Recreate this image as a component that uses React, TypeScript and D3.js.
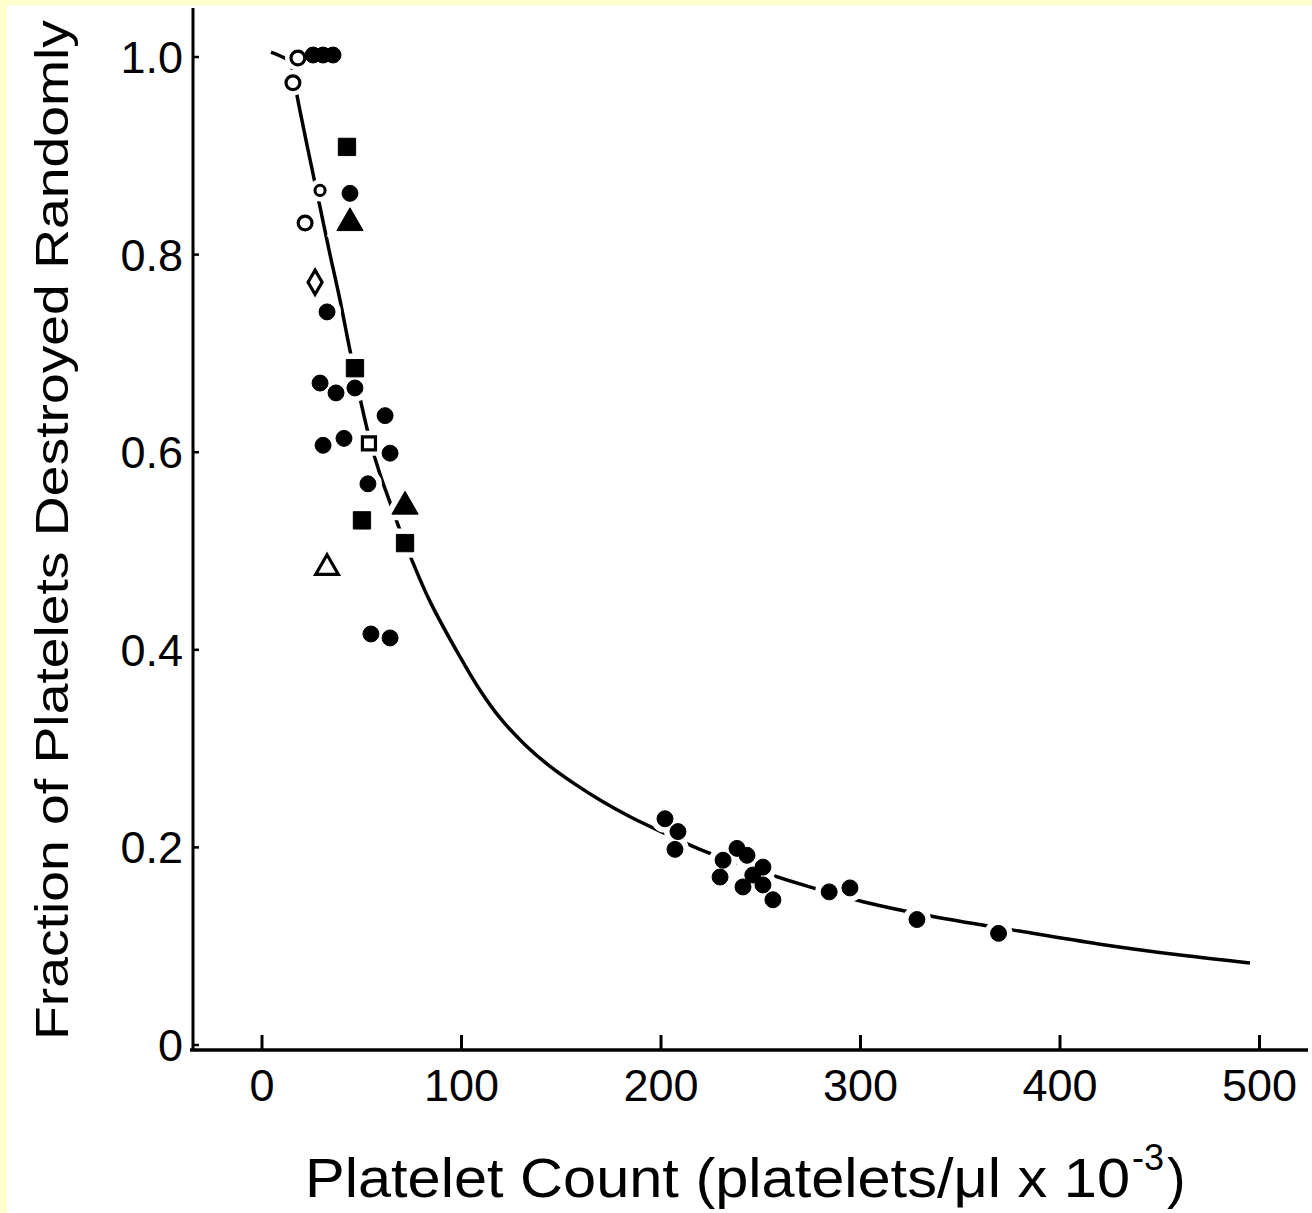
import React from "react";
import * as d3 from "d3";

// ---- Data ----
const xTicks = [0, 100, 200, 300, 400, 500];
const yTicks = [1.0, 0.8, 0.6, 0.4, 0.2, 0];
const yTickLabels = ["1.0", "0.8", "0.6", "0.4", "0.2", "0"];

// Fitted curve
const curveX = [4.5, 14.0, 15.5, 17.0, 19.0, 24.1, 29.1, 34.1, 39.1, 44.1, 49.1, 54.1, 59.1, 64.2, 69.2, 75.7, 84.2, 99.2, 109.3, 119.3, 131.8, 144.4, 156.9, 169.4, 184.5, 200.0, 219.5, 249.6, 276.2, 301.3, 336.3, 377.4, 420.1, 460.2, 495.2];
const curveY = [1.005, 0.995, 0.985, 0.967, 0.946, 0.896, 0.848, 0.8, 0.754, 0.703, 0.655, 0.612, 0.578, 0.549, 0.521, 0.488, 0.449, 0.393, 0.359, 0.331, 0.304, 0.282, 0.264, 0.248, 0.231, 0.216, 0.198, 0.176, 0.159, 0.145, 0.13, 0.116, 0.102, 0.091, 0.083];

const filledCircleX = [25.6, 30.6, 35.6, 44.1, 32.6, 46.6, 29.1, 37.1, 61.7, 30.6, 41.1, 64.2, 53.1, 54.6, 64.2, 202.0, 208.5, 207.0, 238.1, 231.1, 243.1, 251.1, 229.6, 241.1, 251.1, 256.1, 246.0, 284.3, 294.7, 328.3, 369.2];
const filledCircleY = [1.002, 1.002, 1.002, 0.862, 0.742, 0.665, 0.67, 0.66, 0.637, 0.607, 0.614, 0.599, 0.568, 0.416, 0.412, 0.229, 0.216, 0.198, 0.199, 0.187, 0.192, 0.18, 0.17, 0.16, 0.162, 0.147, 0.172, 0.155, 0.159, 0.127, 0.113];

const openCircleX = [18.0, 15.5, 21.6];
const openCircleY = [0.999, 0.974, 0.832];
const smallOpenCircleX = [29.1];
const smallOpenCircleY = [0.865];

const filledSquareX = [42.6, 46.6, 50.1, 71.7];
const filledSquareY = [0.909, 0.685, 0.531, 0.508];

const openSquareX = [53.6];
const openSquareY = [0.609];

const filledTriangleX = [44.1, 71.7];
const filledTriangleY = [0.832, 0.545];

const openTriangleX = [32.6];
const openTriangleY = [0.483];

const openDiamondX = [26.6];
const openDiamondY = [0.772];

// ---- Layout ----
const W = 1312;
const H = 1213;
const x = d3.scaleLinear().domain([0, 500]).range([262, 1259.5]);
const y = d3.scaleLinear().domain([0, 1]).range([1045, 57]);

const FONT = "'Liberation Sans', Arial, sans-serif";

type Pt = { x: number; y: number };
const zip = (xs: number[], ys: number[]): Pt[] => xs.map((v, i) => ({ x: v, y: ys[i] }));

const curvePts = zip(curveX, curveY);
const line = d3
  .line<Pt>()
  .x((d) => x(d.x))
  .y((d) => y(d.y))
  .curve(d3.curveCatmullRom.alpha(0.5));

const sym = (type: d3.SymbolType, size: number) => d3.symbol().type(type).size(size)() as string;

type Group = { pts: Pt[]; path: string; filled: boolean; sw: number };
const groups: Group[] = [
  { pts: zip(filledCircleX, filledCircleY), path: sym(d3.symbolCircle, 200), filled: true, sw: 0 },
  { pts: zip(openCircleX, openCircleY), path: sym(d3.symbolCircle, 150), filled: false, sw: 3.2 },
  { pts: zip(smallOpenCircleX, smallOpenCircleY), path: sym(d3.symbolCircle, 80), filled: false, sw: 3 },
  { pts: zip(filledSquareX, filledSquareY), path: sym(d3.symbolSquare, 300), filled: true, sw: 0 },
  { pts: zip(openSquareX, openSquareY), path: sym(d3.symbolSquare, 170), filled: false, sw: 3.2 },
  { pts: zip(filledTriangleX, filledTriangleY), path: sym(d3.symbolTriangle, 300), filled: true, sw: 0 },
  { pts: zip(openTriangleX, openTriangleY), path: sym(d3.symbolTriangle, 220), filled: false, sw: 3.2 },
  { pts: zip(openDiamondX, openDiamondY), path: sym(d3.symbolDiamond, 170), filled: false, sw: 3.2 },
];

export default function App() {
  const axisY = 1050;
  const axisX = 193;
  return (
    <div style={{ position: "absolute", left: 0, top: 0, width: W, height: H }}>
      <svg width={W} height={H} viewBox={`0 0 ${W} ${H}`} style={{ display: "block" }}>
        <rect x={0} y={0} width={W} height={H} fill="#ffffcc" />
        <rect x={7} y={5} width={W - 7} height={H - 5} fill="#ffffff" />

        {/* axes */}
        <line x1={axisX} y1={8} x2={axisX} y2={axisY} stroke="#000" strokeWidth={3} />
        <line x1={axisX - 3} y1={axisY} x2={1308} y2={axisY} stroke="#000" strokeWidth={3.5} />
        {xTicks.map((t) => (
          <g key={`xt${t}`}>
            <line x1={x(t)} y1={axisY} x2={x(t)} y2={axisY - 15} stroke="#000" strokeWidth={3} />
            <text x={x(t)} y={1101} textAnchor="middle" fontFamily={FONT} fontSize={45} fill="#000">
              {t}
            </text>
          </g>
        ))}
        {yTicks.map((t, i) => (
          <g key={`yt${t}`}>
            <line x1={axisX} y1={y(t)} x2={axisX + 6} y2={y(t)} stroke="#000" strokeWidth={2.5} />
            <text x={183} y={y(t) + 16} textAnchor="end" fontFamily={FONT} fontSize={45} fill="#000">
              {yTickLabels[i]}
            </text>
          </g>
        ))}

        {/* fitted curve */}
        <path d={line(curvePts) as string} fill="none" stroke="#000" strokeWidth={3.5} />

        {/* white halos that break the curve around the markers */}
        {groups.map((g, gi) =>
          g.pts.map((p, i) => (
            <path
              key={`h${gi}-${i}`}
              d={g.path}
              transform={`translate(${x(p.x)},${y(p.y)})`}
              fill="#fff"
              stroke="#fff"
              strokeWidth={12}
            />
          ))
        )}
        {groups.map((g, gi) =>
          g.pts.map((p, i) => (
            <path
              key={`m${gi}-${i}`}
              d={g.path}
              transform={`translate(${x(p.x)},${y(p.y)})`}
              fill={g.filled ? "#000" : "#fff"}
              stroke="#000"
              strokeWidth={g.filled ? 1 : g.sw}
            />
          ))
        )}

        {/* axis titles */}
        <text
          transform="translate(68,1040) rotate(-90)"
          fontFamily={FONT}
          fontSize={47}
          fill="#000"
          textLength={1020}
          lengthAdjust="spacingAndGlyphs"
        >
          Fraction of Platelets Destroyed Randomly
        </text>
        <text x={305} y={1197} fontFamily={FONT} fontSize={56} fill="#000" textLength={825} lengthAdjust="spacingAndGlyphs">
          Platelet Count (platelets/μl x 10
        </text>
        <text x={1132} y={1170} fontFamily={FONT} fontSize={36} fill="#000">
          -3
        </text>
        <text x={1167} y={1197} fontFamily={FONT} fontSize={56} fill="#000">
          )
        </text>
      </svg>
    </div>
  );
}
